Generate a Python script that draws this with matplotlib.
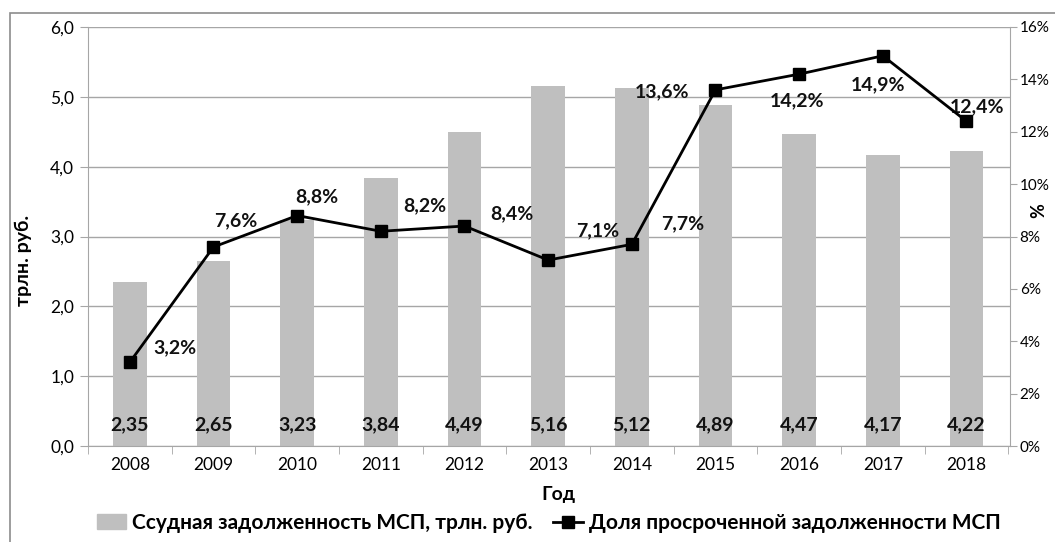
import matplotlib.pyplot as plt
from matplotlib.lines import Line2D
from matplotlib.patches import Patch, Rectangle
from matplotlib.ticker import FuncFormatter, MultipleLocator

plt.rcParams['font.family'] = ['Lato', 'DejaVu Sans']

years = ['2008', '2009', '2010', '2011', '2012', '2013', '2014', '2015', '2016', '2017', '2018']
debt = [2.35, 2.65, 3.23, 3.84, 4.49, 5.16, 5.12, 4.89, 4.47, 4.17, 4.22]
overdue_pct = [3.2, 7.6, 8.8, 8.2, 8.4, 7.1, 7.7, 13.6, 14.2, 14.9, 12.4]

# label offsets in pixels from each marker (as placed in the original)
pct_offsets = [(45, 14), (22, 26), (20, 19), (44, 26), (47, 12), (50, 29),
               (51, 21), (-53, -2), (-2, -27), (-5, -29), (11, 15)]

fig = plt.figure(figsize=(10.55, 5.42), dpi=100)
ax = fig.add_axes([88 / 1055, 96 / 542, 922 / 1055, 419 / 542])
x = list(range(len(years)))

ax.bar(x, debt, width=0.4, color='#bfbfbf', zorder=2)
for xi, v in zip(x, debt):
    ax.text(xi, 0.3, f'{v:.2f}'.replace('.', ','), ha='center', va='center',
            fontsize=14, fontweight='bold', color='#111111', zorder=3)

ax.set_ylim(0, 6)
ax.set_xlim(-0.48, len(years) - 0.48)
ax.yaxis.set_major_locator(MultipleLocator(1))
ax.yaxis.set_major_formatter(FuncFormatter(lambda v, p: f'{v:.1f}'.replace('.', ',')))
ax.grid(axis='y', color='#a6a6a6', linewidth=1, zorder=0)
ax.set_xticks(x)
ax.set_xticklabels(years)
ax.set_xticks([i + 0.5 for i in range(-1, len(years))], minor=True)
ax.tick_params(axis='x', which='major', length=0, pad=8, labelsize=12.5)
ax.tick_params(axis='x', which='minor', length=6, color='#a6a6a6')
ax.tick_params(axis='y', length=6, color='#a6a6a6', labelsize=12.5, pad=4)
for s in ['top', 'right']:
    ax.spines[s].set_visible(False)
ax.spines['left'].set_color('#a6a6a6')
ax.spines['bottom'].set_color('#a6a6a6')
ax.set_ylabel('трлн. руб.', fontsize=14, fontweight='bold')
ax.yaxis.set_label_coords(-0.061, 0.444)
ax.set_xlabel('Год', fontsize=14, fontweight='bold')
ax.xaxis.set_label_coords(0.51, -0.095)

ax2 = ax.twinx()
ax2.plot(x, overdue_pct, color='black', linewidth=2, marker='s', markersize=9, zorder=4)
for xi, v, (dx, dy) in zip(x, overdue_pct, pct_offsets):
    ax2.annotate(f'{v:.1f}%'.replace('.', ','), (xi, v), xytext=(dx, dy),
                 textcoords='offset pixels', ha='center', va='center',
                 fontsize=14, fontweight='bold', color='#111111')
ax2.set_ylim(0, 16)
ax2.yaxis.set_major_locator(MultipleLocator(2))
ax2.yaxis.set_major_formatter(FuncFormatter(lambda v, p: f'{v:.0f}%'))
ax2.tick_params(axis='y', length=5, color='#a6a6a6', labelsize=11, pad=2)
for s in ['top', 'left', 'bottom']:
    ax2.spines[s].set_visible(False)
ax2.spines['right'].set_color('#a6a6a6')
ax2.set_ylabel('%', fontsize=13, fontweight='bold')
ax2.yaxis.set_label_coords(1.0217, 0.563)

handles = [Patch(color='#bfbfbf'),
           Line2D([], [], color='black', linewidth=2, marker='s', markersize=8)]
labels = ['Ссудная задолженность МСП, трлн. руб.', 'Доля просроченной задолженности МСП']
fig.legend(handles, labels, loc='center', bbox_to_anchor=(0.52, 0.035), ncol=2,
           frameon=False, handlelength=1.4, handletextpad=0.3, columnspacing=1.0,
           prop={'size': 15, 'weight': 'bold'})

fig.patches.append(Rectangle((10 / 1055, -0.1), 1.2, (529 / 542) + 0.1,
                             transform=fig.transFigure, fill=False,
                             edgecolor='#8c8c8c', linewidth=1.2))

fig.savefig('out.png', dpi=100)
